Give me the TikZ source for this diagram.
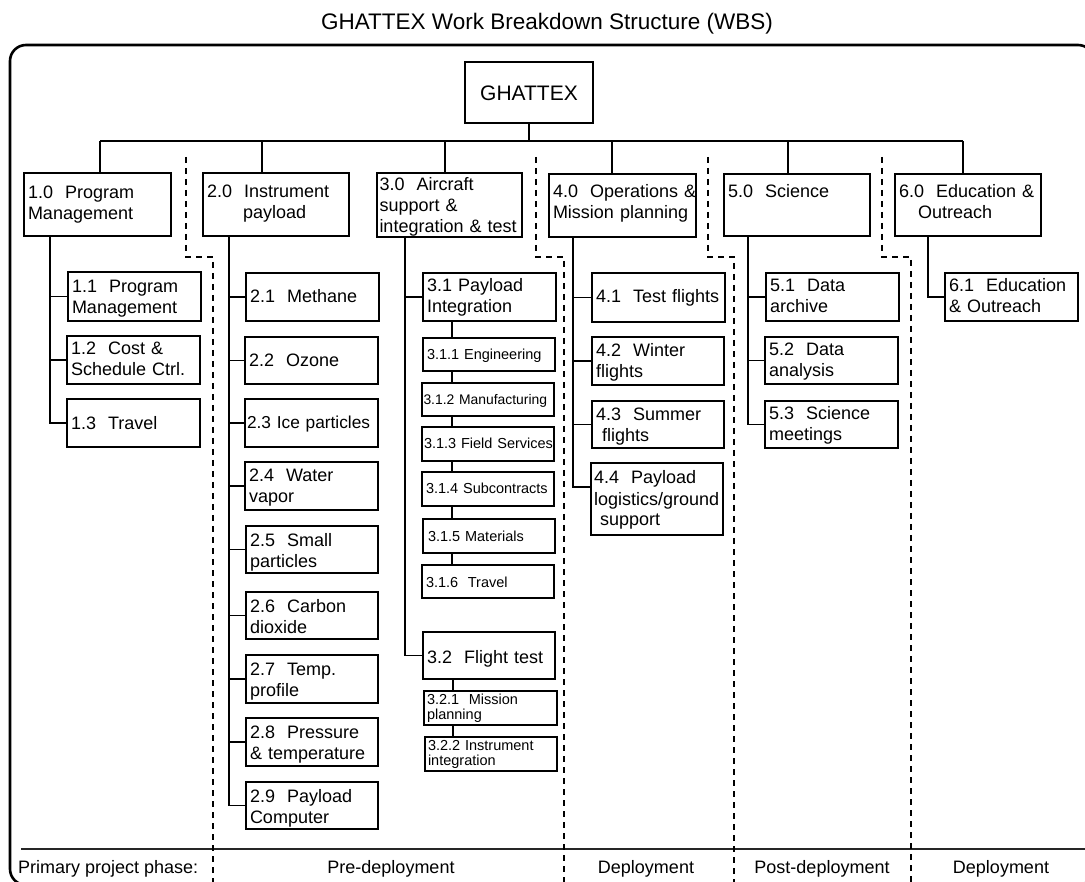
\documentclass[tikz,border=0pt]{standalone}
\usepackage{fontspec}
\setmainfont{Liberation Sans}
\newcommand\bodyfont{\fontsize{18}{21}\selectfont}
\newcommand\smallfont{\fontsize{14.5}{15}\selectfont}
\newcommand\wl[1]{\mbox{#1}}
\newcommand\wbsnode[8]{%
  \pgfmathsetmacro\wbsw{#5-#3-8}%
  \pgfmathsetmacro\wbsth{#7}%
  \pgfmathsetmacro\wbstd{#6-#4-#7}%
  \node[wbsbox,#2,text width=\wbsw pt,text height=\wbsth pt,text depth=\wbstd pt] (#1) at ({(#3+#5)/2},{(#4+#6)/2}) {#8};}
\tikzset{
  wbsbox/.style={draw, line width=1.3pt, inner xsep=4pt, inner ysep=0pt, align=left, font=\bodyfont},
  smallbox/.style={font=\smallfont},
  link/.style={line width=1.3pt},
  sepline/.style={line width=1.2pt, dash pattern=on 6pt off 5pt},
  phase/.style={font=\bodyfont, anchor=base, inner sep=0pt}
}
\begin{document}
\begin{tikzpicture}[x=1pt,y=-1pt]
\useasboundingbox (0,0) rectangle (1085,882);
% title and frame
\node[font=\fontsize{22.5}{26}\selectfont, anchor=base] (title) at (547,30) {GHATTEX Work Breakdown Structure (WBS)};
\draw[line width=2.6pt, rounded corners=16pt] (10,45) rectangle (1094,885);
\draw[line width=2pt, black!85] (21,849) -- (1094,849);
% separators
\draw[sepline] (186,157) -- (186,257) -- (213,257) -- (213,882);
\draw[sepline] (536,157) -- (536,257) -- (564,257) -- (564,882);
\draw[sepline] (708,157) -- (708,257) -- (734,257) -- (734,882);
\draw[sepline] (882,157) -- (882,257) -- (911,257) -- (911,882);
% root
\wbsnode{root}{align=center,font=\fontsize{21}{24}\selectfont}{465}{62}{593}{123}{39}{GHATTEX}
% level 1
\wbsnode{n10}{}{24}{173}{171}{236}{26}{\wl{1.0\ \ Program}\\\wl{Management}}
\wbsnode{n20}{}{203}{173}{349}{236}{25}{\wl{2.0\ \ Instrument}\\\wl{\hspace*{36pt}payload}}
\wbsnode{n30}{}{377}{173}{522}{237}{18}{\wl{\hspace*{-1.5pt}3.0\ \ Aircraft}\\\wl{\hspace*{-1.5pt}support \&}\\\wl{\hspace*{-1.5pt}integration \& test}}
\wbsnode{n40}{}{549}{174}{696}{237}{24}{\wl{4.0\ \ Operations \&}\\\wl{Mission planning}}
\wbsnode{n50}{}{724}{174}{870}{236}{24}{\wl{5.0\ \ Science}}
\wbsnode{n60}{}{895}{174}{1041}{236}{24}{\wl{6.0\ \ Education \&}\\\wl{\hspace*{19pt}Outreach}}
% column 1
\wbsnode{n11}{}{68}{272}{201}{321}{21}{\wl{1.1\ \ Program}\\\wl{Management}}
\wbsnode{n12}{}{67}{336}{200}{384}{19}{\wl{1.2\ \ Cost \&}\\\wl{Schedule Ctrl.}}
\wbsnode{n13}{}{67}{399}{200}{447}{31}{\wl{1.3\ \ Travel}}
% column 2
\wbsnode{n21}{}{246}{273}{379}{321}{30}{\wl{2.1\ \ Methane}}
\wbsnode{n22}{}{245}{337}{378}{384}{30}{\wl{2.2\ \ Ozone}}
\wbsnode{n23}{font=\fontsize{17.3}{21}\selectfont}{245}{399}{378}{447}{30}{\wl{\hspace*{-2pt}2.3 Ice particles}}
\wbsnode{n24}{}{245}{462}{378}{510}{20}{\wl{2.4\ \ Water}\\\wl{vapor}}
\wbsnode{n25}{}{246}{526}{378}{573}{20}{\wl{2.5\ \ Small}\\\wl{particles}}
\wbsnode{n26}{}{246}{592}{378}{639}{20}{\wl{2.6\ \ Carbon}\\\wl{dioxide}}
\wbsnode{n27}{}{246}{655}{378}{703}{20}{\wl{2.7\ \ Temp.}\\\wl{profile}}
\wbsnode{n28}{}{246}{718}{378}{766}{20}{\wl{2.8\ \ Pressure}\\\wl{\& temperature}}
\wbsnode{n29}{}{246}{782}{378}{829}{20}{\wl{2.9\ \ Payload}\\\wl{Computer}}
% column 3
\wbsnode{n31}{}{423}{273}{556}{321}{19}{\wl{3.1 Payload}\\\wl{Integration}}
\wbsnode{n311}{smallbox}{423}{338}{555}{371}{22}{\wl{3.1.1 Engineering}}
\wbsnode{n312}{font=\fontsize{13.9}{15}\selectfont}{422}{383}{554}{416}{22}{\wl{\hspace*{-2.5pt}3.1.2 Manufacturing}}
\wbsnode{n313}{smallbox}{422}{427}{554}{461}{22}{\wl{\hspace*{-2pt}3.1.3 Field Services}}
\wbsnode{n314}{smallbox}{422}{472}{554}{506}{22}{\wl{3.1.4 Subcontracts}}
\wbsnode{n315}{smallbox}{423}{519}{555}{553}{22}{\wl{\hspace*{1pt}3.1.5 Materials}}
\wbsnode{n316}{smallbox}{422}{565}{554}{598}{22}{\wl{3.1.6\ \ Travel}}
\wbsnode{n32}{}{423}{632}{555}{679}{31}{\wl{3.2\ \ Flight test}}
\wbsnode{n321}{smallbox}{424}{691}{557}{725}{13}{\wl{\hspace*{-1pt}3.2.1\ \ Mission}\\\wl{\hspace*{-1pt}planning}}
\wbsnode{n322}{smallbox}{425}{737}{557}{771}{13}{\wl{\hspace*{-1pt}3.2.2 Instrument}\\\wl{\hspace*{-1pt}integration}}
% column 4
\wbsnode{n41}{}{592}{273}{725}{322}{30}{\wl{4.1\ \ Test flights}}
\wbsnode{n42}{}{592}{337}{724}{385}{20}{\wl{4.2\ \ Winter}\\\wl{flights}}
\wbsnode{n43}{}{592}{401}{724}{448}{20}{\wl{4.3\ \ Summer}\\\wl{\ flights}}
\wbsnode{n44}{}{591}{463}{723}{535}{21}{\wl{\hspace*{-1pt}4.4\ \ Payload}\\\wl{\hspace*{-1pt}logistics/ground}\\\wl{\hspace*{-1pt}\ support}}
% column 5
\wbsnode{n51}{}{766}{273}{899}{321}{19}{\wl{5.1\ \ Data}\\\wl{archive}}
\wbsnode{n52}{}{765}{337}{898}{384}{19}{\wl{5.2\ \ Data}\\\wl{analysis}}
\wbsnode{n53}{}{765}{401}{898}{448}{19}{\wl{5.3\ \ Science}\\\wl{meetings}}
% column 6
\wbsnode{n61}{}{945}{273}{1078}{321}{19}{\wl{6.1\ \ Education}\\\wl{\& Outreach}}
% connector coordinates
\coordinate (cx1) at (50,0);
\coordinate (cx2) at (229,0);
\coordinate (cx3) at (405,0);
\coordinate (cx4) at (573,0);
\coordinate (cx5) at (748,0);
\coordinate (cx6) at (928,0);
\coordinate (cx31) at (452,0);
\coordinate (cx32) at (453,0);
\coordinate (b1) at (100,141);
\coordinate (b2) at (262,141);
\coordinate (b3) at (445,141);
\coordinate (b4) at (612,141);
\coordinate (b5) at (788,141);
\coordinate (b6) at (963,141);
% connectors
\draw[link] (root.south) -- (root.south |- b1);
\draw[link] (b1) -- (b6);
\foreach \i/\n in {1/n10,2/n20,3/n30,4/n40,5/n50,6/n60}
  \draw[link] (b\i) -- (b\i |- \n.north);
\foreach \n in {n11,n12,n13}
  \draw[link] (n10.south -| cx1) |- (\n.west);
\foreach \n in {n21,n22,n23,n24,n25,n26,n27,n28,n29}
  \draw[link] (n20.south -| cx2) |- (\n.west);
\foreach \n in {n31,n32}
  \draw[link] (n30.south -| cx3) |- (\n.west);
\foreach \a/\b in {n31/n311,n311/n312,n312/n313,n313/n314,n314/n315,n315/n316}
  \draw[link] (\a.south -| cx31) -- (\b.north -| cx31);
\foreach \a/\b in {n32/n321,n321/n322}
  \draw[link] (\a.south -| cx32) -- (\b.north -| cx32);
\foreach \n in {n41,n42,n43}
  \draw[link] (n40.south -| cx4) |- (\n.west);
\draw[link] (n40.south -| cx4) |- ([yshift=12pt]n44.west);
\foreach \n in {n51,n52,n53}
  \draw[link] (n50.south -| cx5) |- (\n.west);
\draw[link] (n60.south -| cx6) |- (n61.west);
% phase row
\node[phase, anchor=base west] (phlabel) at (18,873) {Primary project phase:};
\node[phase] (ph1) at (391,873) {Pre-deployment};
\node[phase] (ph2) at (646,873) {Deployment};
\node[phase] (ph3) at (822,873) {Post-deployment};
\node[phase] (ph4) at (1001,873) {Deployment};
\end{tikzpicture}
\end{document}
